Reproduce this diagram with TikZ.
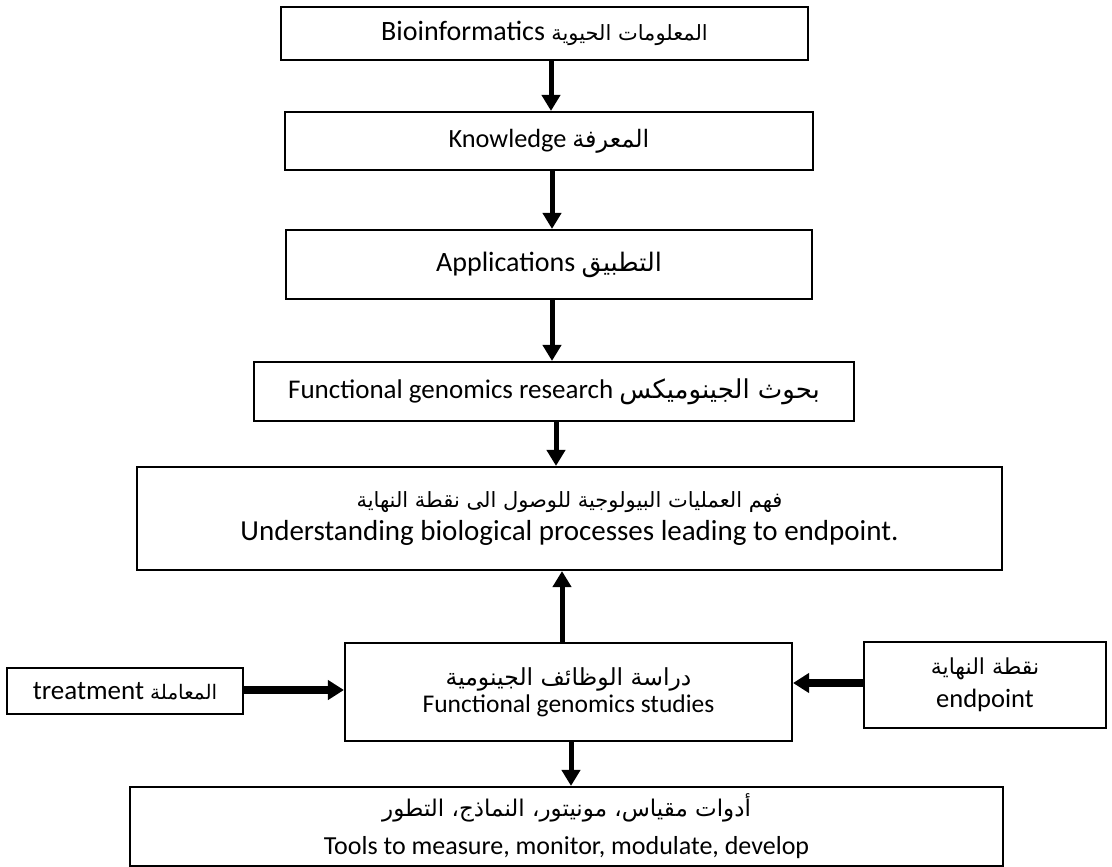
\documentclass[tikz,border=0pt]{standalone}
\usepackage{fontspec}
\setmainfont{Carlito}
\newfontfamily\arabicfont[Script=Arabic]{DejaVu Sans}
\TeXXeTstate=1
\usetikzlibrary{arrows.meta}
% Arabic run, right to left, at a given size
\newcommand\artxt[2][21]{{\fontsize{#1}{#1}\arabicfont\selectfont\beginR #2\endR}}
\newcommand\boxfont[2]{\fontsize{#1}{#2}\selectfont}
\begin{document}
\begin{tikzpicture}[x=1pt,y=-1pt,
  box/.style={draw, line width=2.1pt, inner sep=0pt, align=center,
    font=\boxfont{26.3}{32}},
  flow/.style={line width=5pt, -{Triangle[width=18pt,length=16pt]}},
  sideflow/.style={line width=7.5pt, -{Triangle[width=19pt,length=16pt]}}]
\useasboundingbox (0,0) rectangle (1112,867);

% main chain
\node[box, minimum width=527pt, minimum height=53pt,
  font=\boxfont{28}{32}] (bio) at (544.5,33.5)
  {Bioinformatics \artxt{المعلومات الحيوية}};
\node[box, minimum width=528pt, minimum height=58pt] (know) at (549,141)
  {Knowledge \artxt[24]{المعرفة}};
\node[box, minimum width=526pt, minimum height=69pt,
  font=\boxfont{28}{32}] (app) at (549,264.5)
  {Applications \artxt[25.5]{التطبيق}};
\node[box, minimum width=600pt, minimum height=59pt,
  font=\boxfont{27}{32}] (res) at (554,391.5)
  {Functional genomics research \artxt[26]{بحوث الجينوميكس}};
\node[box, minimum width=865pt, minimum height=103pt,
  font=\boxfont{29}{33}] (proc) at (569.5,518.5)
  {\artxt[21]{فهم العمليات البيولوجية للوصول الى نقطة النهاية}\\
   Understanding biological processes leading to endpoint.};

% studies with its inputs and outputs
\node[box, minimum width=447pt, minimum height=98pt,
  font=\boxfont{25.5}{27}] (stud) at (568.5,692)
  {\artxt[23.5]{دراسة الوظائف الجينومية}\\ Functional genomics studies};
\node[box, minimum width=236pt, minimum height=46pt,
  font=\boxfont{27}{32}] (treat) at (125,691)
  {treatment \artxt[20]{المعاملة}};
\node[box, minimum width=242pt, minimum height=86pt,
  font=\boxfont{26.5}{33}] (endp) at (985,685)
  {\artxt[22]{نقطة النهاية}\\ endpoint};
\node[box, minimum width=873pt, minimum height=79pt,
  font=\boxfont{26}{38}] (tools) at (566.5,826.5)
  {\artxt[23]{أدوات مقياس، مونيتور، النماذج، التطور}\\
   Tools to measure, monitor, modulate, develop};

% connectors
\draw[flow] ([xshift=6.5pt]bio.south) -- ([xshift=6.5pt]bio.south |- know.north);
\draw[flow] ([xshift=3pt]know.south) -- ([xshift=3pt]know.south |- app.north);
\draw[flow] ([xshift=3pt]app.south) -- ([xshift=3pt]app.south |- res.north);
\draw[flow] ([xshift=2pt]res.south) -- ([xshift=2pt]res.south |- proc.north);
\draw[flow] ([xshift=-6.5pt]stud.north) -- ([xshift=-6.5pt]stud.north |- proc.south);
\draw[flow] ([xshift=2.5pt]stud.south) -- ([xshift=2.5pt]stud.south |- tools.north);
\draw[sideflow] ([yshift=1pt]treat.east) -- ([yshift=1pt]treat.east -| stud.west);
\draw[sideflow] ([yshift=2pt]endp.west) -- ([yshift=2pt]endp.west -| stud.east);
\end{tikzpicture}
\end{document}
